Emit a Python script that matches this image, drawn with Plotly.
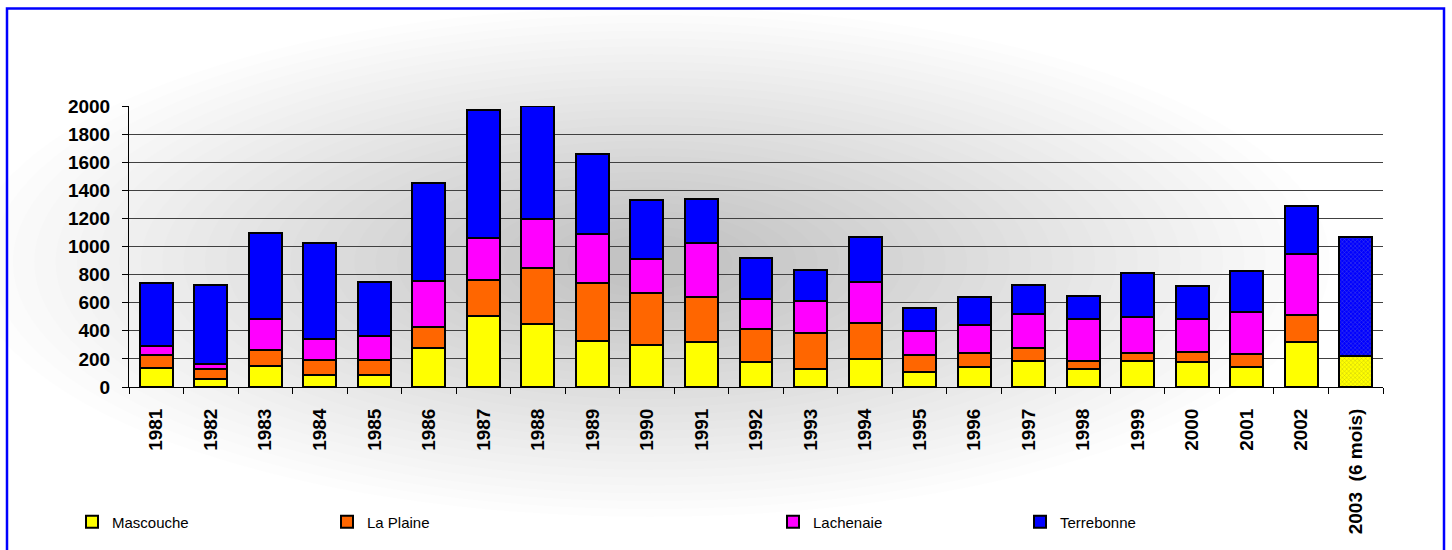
import plotly.graph_objects as go

years = ["1981", "1982", "1983", "1984", "1985", "1986", "1987", "1988", "1989", "1990",
         "1991", "1992", "1993", "1994", "1995", "1996", "1997", "1998", "1999", "2000",
         "2001", "2002", "2003 \u00a0(6 mois)"]
mascouche = [135, 59, 147, 83, 88, 280, 505, 446, 327, 301, 320, 178, 130, 197, 107, 142,
             185, 130, 184, 178, 142, 320, 218]
la_plaine = [90, 71, 114, 107, 104, 147, 257, 403, 411, 370, 321, 237, 257, 261, 123, 102,
             93, 55, 61, 73, 95, 195, None]
lachenaie = [67, 36, 221, 154, 169, 327, 301, 344, 349, 238, 386, 209, 223, 292, 169, 197,
             244, 299, 255, 231, 297, 429, None]
terrebonne = [451, 560, 616, 683, 386, 698, 911, 807, 569, 420, 313, 294, 225, 315, 166, 197,
              204, 166, 314, 234, 292, 342, 850]
y_ticks = [0, 200, 400, 600, 800, 1000, 1200, 1400, 1600, 1800, 2000]

W, H = 1452, 550
L, R, T, B = 129, 1383, 106, 387
FONT = "Arial, Liberation Sans, sans-serif"


def px_x(p):
    return (p - L) / (R - L)


def px_y(p):
    return (B - p) / (B - T)


n = len(years)
pat_shape = [""] * (n - 1) + ["x"]

series = [
    ("Mascouche", mascouche, "#FFFF00", "#8a8a20", "legend", 72),
    ("La Plaine", la_plaine, "#FF6600", "#000000", "legend2", 327),
    ("Lachenaie", lachenaie, "#FF00FF", "#000000", "legend3", 773),
    ("Terrebonne", terrebonne, "#0000FF", "#9090c8", "legend4", 1020),
]

fig = go.Figure()
for name, vals, col, fg, leg, _ in series:
    fig.add_trace(go.Bar(
        x=years, y=vals, name=name, legend=leg,
        marker=dict(color=col, line=dict(color="black", width=2),
                    pattern=dict(shape=pat_shape, fgcolor=fg, size=3, solidity=0.3,
                                 fillmode="overlay")),
    ))

shapes = []
# soft radial shading behind the chart
cx, cy = 650, 262
steps = 30
for i in range(steps):
    f = 1 - i / steps
    rx, ry = 640 * f + 40, 235 * f + 20
    shapes.append(dict(type="circle", xref="paper", yref="paper", layer="below",
                       x0=px_x(cx - rx), x1=px_x(cx + rx),
                       y0=px_y(cy + ry), y1=px_y(cy - ry),
                       fillcolor="#000000", opacity=0.0095, line=dict(width=0)))
# blue outer frame
shapes.append(dict(type="rect", xref="paper", yref="paper", layer="above",
                   x0=px_x(7), x1=px_x(1444), y0=px_y(562), y1=px_y(8.5),
                   line=dict(color="#0000FF", width=2.5), fillcolor="rgba(0,0,0,0)"))

layout_legends = {}
for idx, (name, vals, col, fg, leg, lx) in enumerate(series):
    layout_legends[leg] = dict(
        x=px_x(lx), y=px_y(522), xanchor="left", yanchor="middle",
        orientation="h", bgcolor="rgba(0,0,0,0)",
        font=dict(family=FONT, size=15, color="black"),
    )

fig.update_layout(
    width=W, height=H,
    margin=dict(l=L, r=W - R, t=T, b=H - B, pad=0),
    barmode="stack", bargap=0.395,
    paper_bgcolor="white", plot_bgcolor="rgba(0,0,0,0)",
    font=dict(family=FONT, color="black"),
    shapes=shapes,
    showlegend=True,
    **layout_legends,
)
fig.update_xaxes(
    type="category", showgrid=False, showline=True, linecolor="black", linewidth=1,
    ticks="outside", tickson="boundaries", ticklen=6, tickcolor="black",
    tickangle=-90, ticklabelstandoff=13,
    tickfont=dict(family=FONT, size=19, color="black", weight="bold"),
)
fig.update_yaxes(
    range=[0, 2000], tickvals=y_ticks, showgrid=True, gridcolor="#404040", gridwidth=1,
    showline=True, linecolor="black", linewidth=1, zeroline=False,
    ticks="outside", ticklen=6, tickcolor="black", ticklabelstandoff=8,
    tickfont=dict(family=FONT, size=19, color="black", weight="bold"),
)

fig.write_html("out.html", config={"displayModeBar": False},
               post_script="document.body.style.margin='0px';")
